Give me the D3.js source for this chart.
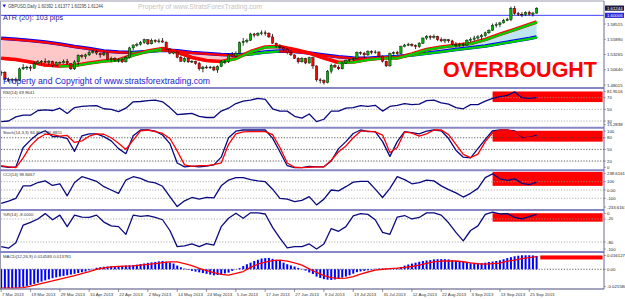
<!DOCTYPE html>
<html>
<head>
<meta charset="utf-8">
<script src="https://d3js.org/d3.v7.min.js"></script>
<style>
  body { margin: 0; background: #ffffff; }
  svg { display: block; font-family: 'Liberation Sans', Arial, sans-serif; }
  .osc { fill: none; stroke: #0a0a80; stroke-width: 1.3; stroke-linejoin: round; }
  .sig { fill: none; stroke: #ff0000; stroke-width: 1.3; stroke-linejoin: round; }
  .lvl { stroke: #9a9a9a; stroke-width: 0.8; stroke-dasharray: 1.2,1.6; }
  .lvl.dark { stroke: #333333; }
  .rlab { font-size: 4.3px; fill: #222222; }
  .ilab { font-size: 4.3px; fill: #333333; }
  .dlab { font-size: 4.3px; fill: #333333; }
</style>
</head>
<body>
<script>
// ---- price bars (daily GBPUSD, 7 Mar .. 27 Sep 2013) ----
var opens = [1.5010,1.5020,1.4900,1.4880,1.4900,1.4880,1.5080,1.5100,1.5110,1.5090,
  1.5170,1.5200,1.5210,1.5190,1.5210,1.5140,1.5190,1.5180,1.5210,1.5170,
  1.5080,1.5200,1.5310,1.5290,1.5320,1.5360,1.5380,1.5350,1.5320,1.5350,
  1.5240,1.5260,1.5230,1.5240,1.5200,1.5270,1.5440,1.5490,1.5500,1.5530,
  1.5580,1.5510,1.5570,1.5550,1.5560,1.5540,1.5420,1.5350,1.5370,1.5280,
  1.5210,1.5260,1.5200,1.5210,1.5170,1.5080,1.5110,1.5100,1.5110,1.5060,
  1.5120,1.5200,1.5200,1.5320,1.5300,1.5350,1.5530,1.5550,1.5570,1.5680,
  1.5660,1.5690,1.5700,1.5690,1.5630,1.5520,1.5470,1.5450,1.5420,1.5360,
  1.5320,1.5260,1.5200,1.5260,1.5180,1.5270,1.5130,1.4890,1.4880,1.4840,
  1.5040,1.5140,1.5110,1.5080,1.5180,1.5230,1.5240,1.5260,1.5360,1.5350,
  1.5320,1.5380,1.5360,1.5370,1.5300,1.5210,1.5130,1.5340,1.5360,1.5340,
  1.5460,1.5490,1.5500,1.5480,1.5460,1.5520,1.5610,1.5640,1.5620,1.5640,
  1.5580,1.5560,1.5580,1.5560,1.5500,1.5490,1.5500,1.5490,1.5570,1.5590,
  1.5610,1.5630,1.5650,1.5700,1.5740,1.5830,1.5840,1.5870,1.5910,1.5930,
  1.6120,1.6030,1.6020,1.6010,1.6050,1.6020,1.60392];
var highs = [1.5050,1.5040,1.4930,1.4920,1.4930,1.5100,1.5160,1.5130,1.5140,1.5200,
  1.5230,1.5230,1.5260,1.5230,1.5220,1.5210,1.5210,1.5240,1.5250,1.5180,
  1.5230,1.5330,1.5330,1.5340,1.5400,1.5410,1.5400,1.5360,1.5390,1.5360,
  1.5290,1.5280,1.5260,1.5260,1.5300,1.5460,1.5500,1.5530,1.5560,1.5600,
  1.5590,1.5600,1.5590,1.5600,1.5610,1.5550,1.5440,1.5390,1.5380,1.5310,
  1.5280,1.5270,1.5230,1.5220,1.5200,1.5130,1.5140,1.5130,1.5130,1.5140,
  1.5230,1.5230,1.5340,1.5370,1.5380,1.5550,1.5610,1.5600,1.5700,1.5700,
  1.5710,1.5740,1.5740,1.5710,1.5680,1.5530,1.5500,1.5460,1.5440,1.5380,
  1.5330,1.5280,1.5280,1.5270,1.5290,1.5290,1.5140,1.4920,1.4900,1.5060,
  1.5170,1.5170,1.5140,1.5200,1.5240,1.5260,1.5280,1.5380,1.5380,1.5370,
  1.5400,1.5400,1.5400,1.5380,1.5310,1.5220,1.5360,1.5380,1.5390,1.5480,
  1.5510,1.5530,1.5520,1.5500,1.5540,1.5620,1.5660,1.5660,1.5670,1.5650,
  1.5620,1.5600,1.5590,1.5580,1.5540,1.5530,1.5530,1.5590,1.5620,1.5650,
  1.5660,1.5680,1.5720,1.5760,1.5860,1.5880,1.5890,1.5940,1.5960,1.6150,
  1.6160,1.6060,1.6060,1.6070,1.6080,1.6060,1.61377];
var lows = [1.4960,1.4880,1.4850,1.4832,1.4850,1.4870,1.5060,1.5060,1.5040,1.5080,
  1.5150,1.5140,1.5180,1.5150,1.5110,1.5130,1.5170,1.5170,1.5150,1.5060,
  1.5060,1.5140,1.5260,1.5250,1.5300,1.5340,1.5320,1.5270,1.5300,1.5220,
  1.5190,1.5200,1.5190,1.5180,1.5190,1.5260,1.5400,1.5460,1.5480,1.5510,
  1.5490,1.5500,1.5530,1.5520,1.5530,1.5400,1.5330,1.5330,1.5260,1.5200,
  1.5190,1.5180,1.5180,1.5150,1.5050,1.5020,1.5080,1.5080,1.5040,1.5010,
  1.5110,1.5160,1.5180,1.5280,1.5280,1.5340,1.5480,1.5520,1.5560,1.5620,
  1.5640,1.5660,1.5650,1.5610,1.5510,1.5440,1.5420,1.5380,1.5330,1.5300,
  1.5250,1.5170,1.5190,1.5160,1.5170,1.5080,1.4860,1.4830,1.4810,1.4830,
  1.5000,1.5100,1.5060,1.5070,1.5160,1.5200,1.5210,1.5250,1.5320,1.5270,
  1.5300,1.5330,1.5340,1.5280,1.5190,1.5110,1.5120,1.5320,1.5320,1.5330,
  1.5450,1.5470,1.5460,1.5420,1.5440,1.5510,1.5580,1.5580,1.5600,1.5560,
  1.5540,1.5520,1.5530,1.5480,1.5440,1.5460,1.5460,1.5480,1.5540,1.5560,
  1.5580,1.5570,1.5630,1.5680,1.5730,1.5790,1.5800,1.5860,1.5900,1.5900,
  1.6010,1.5990,1.5970,1.5990,1.6000,1.5980,1.60295];
var closes = [1.5020,1.4900,1.4880,1.4900,1.4880,1.5080,1.5100,1.5110,1.5090,1.5170,
  1.5200,1.5210,1.5190,1.5210,1.5140,1.5190,1.5180,1.5210,1.5170,1.5080,
  1.5200,1.5310,1.5290,1.5320,1.5360,1.5380,1.5350,1.5320,1.5350,1.5240,
  1.5260,1.5230,1.5240,1.5200,1.5270,1.5440,1.5490,1.5500,1.5530,1.5580,
  1.5510,1.5570,1.5550,1.5560,1.5540,1.5420,1.5350,1.5370,1.5280,1.5210,
  1.5260,1.5200,1.5210,1.5170,1.5080,1.5110,1.5100,1.5110,1.5060,1.5120,
  1.5200,1.5200,1.5320,1.5300,1.5350,1.5530,1.5550,1.5570,1.5680,1.5660,
  1.5690,1.5700,1.5690,1.5630,1.5520,1.5470,1.5450,1.5420,1.5360,1.5320,
  1.5260,1.5200,1.5260,1.5180,1.5270,1.5130,1.4890,1.4880,1.4840,1.5040,
  1.5140,1.5110,1.5080,1.5180,1.5230,1.5240,1.5260,1.5360,1.5350,1.5320,
  1.5380,1.5360,1.5370,1.5300,1.5210,1.5130,1.5340,1.5360,1.5340,1.5460,
  1.5490,1.5500,1.5480,1.5460,1.5520,1.5610,1.5640,1.5620,1.5640,1.5580,
  1.5560,1.5580,1.5560,1.5500,1.5490,1.5500,1.5490,1.5570,1.5590,1.5610,
  1.5630,1.5650,1.5700,1.5740,1.5830,1.5840,1.5870,1.5910,1.5930,1.6120,
  1.6030,1.6020,1.6010,1.6050,1.6020,1.6040,1.61244];

// ---- moving averages, read every 4 bars ----
var maIdx = [0,4,8,12,16,20,24,28,32,36,40,44,48,52,56,60,64,68,72,76,80,84,88,92,96,100,104,108,112,116,120,124,128,132,136,140,144,146];
var maSlow = [1.5605,1.5588,1.5568,1.5542,1.5507,1.5464,1.5430,1.5387,1.5370,1.5361,1.5378,1.5401,1.5390,1.5361,1.5344,1.5327,1.5318,1.5335,1.5370,1.5387,
  1.5378,1.5352,1.5318,1.5289,1.5266,1.5261,1.5278,1.5292,1.5318,1.5347,1.5378,1.5413,1.5442,1.5473,1.5516,1.5559,1.5602,1.5628];
var maFast = [1.5261,1.5240,1.5198,1.5146,1.5129,1.5137,1.5180,1.5215,1.5232,1.5318,1.5387,1.5430,1.5370,1.5275,1.5223,1.5206,1.5258,1.5378,1.5456,1.5464,
  1.5413,1.5352,1.5266,1.5189,1.5198,1.5240,1.5266,1.5266,1.5335,1.5413,1.5456,1.5485,1.5516,1.5585,1.5674,1.5757,1.5843,1.5886];
var levelPrice = 1.60006;

// ---- oscillators, read every 2 bars ----
var oscIdx = d3.range(0, 147, 2);
var rsi = [29,30,37,40,40,48,49,48,52,43, 53,55,56,56.5,51,50,46,52,63,63.5, 65,66,63,53,41,42,43,38,36,36,
  47,52,60,64,66,69,67,51,47,47, 38,35,42,29,33,47,47,52,53,56.5, 55,57,47,55,57,60,58,59,65,66,
  61,59,53,51,58,58,64,69,72,74, 80,70,69,70];
var stochMain = [6,4,5,55,74,90,98,83,83,78, 45,85,90,90,83,72,52,39,85,100, 100,97,87,65,15,5,7,5,7,10,
  30,80,97,100,100,100,100,79,44,8, 3,3,6,5,5,20,52,70,91,100, 96,96,70,32,70,96,93,90,97,100,
  98,78,48,30,28,52,76,98,100,100, 98,82,81,87];
var stochSignal = [8,5,3,28,59,78,89,88,84,86, 68,72,84,90,89,80,66,50,74,98, 100,96,91,78,46,10,6,8,8,11,
  15,63,90,95,96,96,96,88,55,15, 4,3,4,5,5,22,44,59,80,97, 97,95,87,42,55,95,92,84,90,100,
  100,88,63,37,29,38,70,93,100,100, 96,85,80,83];
var cci = [-160,-135,-100,50,50,90,110,55,75,-70, 90,160,135,105,40,0,-40,120,160,140, 100,85,45,-80,-200,-130,-90,-110,-90,-95,
  50,120,150,150,125,110,100,10,-100,-110, -140,-125,-80,-180,-110,0,-10,40,95,105, 105,10,-90,20,160,125,75,90,120,110,
  50,5,-35,-85,-40,20,150,195,135,115, 135,80,65,95];
var wpr = [-92,-96,-82,-36,-29,-20,-6,-22,-10,-40, -10,-15,-16,-10,-28,-38,-40,-60,-10,-13, -11,-16,-22,-50,-92,-90,-85,-92,-84,-88,
  -40,-18,-5,-18,-4,-4,-7,-42,-70,-95, -92,-92,-85,-98,-85,-45,-52,-40,-12,-6, -8,-22,-55,-60,-15,-11,-20,-16,-4,-4,
  -10,-30,-55,-77,-50,-38,-8,-2,-7,-6, -16,-20,-14,-8];
var macdSignal = [-.0207,-.0207,-.0206,-.0200,-.0184,-.0166,-.0145,-.0128,-.0108,-.0090, -.0070,-.0048,-.0025,.0000,.0015,.0025,.0031,.0034,.0036,.0045,
  .0053,.0062,.0072,.0080,.0080,.0062,.0040,.0010,-.0015,-.0037, -.0055,-.0064,-.0045,-.0025,.0020,.0055,.0078,.0095,.0100,.0088,
  .0070,.0045,.0005,-.0035,-.0070,-.0092,-.0100,-.0098,-.0080,-.0052, -.0030,-.0010,.0000,.0007,.0012,.0020,.0030,.0045,.0065,.0080,
  .0090,.0092,.0090,.0082,.0070,.0060,.0057,.0062,.0068,.0088, .0100,.0116,.0128,.0138];
// MACD histogram, one value per bar
var macdHist = [-.0207,-.0208,-.0207,-.0205,-.0203,-.0200,-.0192,-.0182,-.0172,-.0160,
  -.0148,-.0135,-.0122,-.0110,-.0098,-.0089,-.0080,-.0073,-.0066,-.0058,
  -.0050,-.0041,-.0033,-.0025,-.0012,.0004,.0016,.0022,.0027,.0030,
  .0032,.0034,.0036,.0038,.0040,.0043,.0046,.0050,.0057,.0063,
  .0070,.0075,.0080,.0086,.0090,.0084,.0074,.0062,.0040,.0022,
  .0007,-.0006,-.0018,-.0026,-.0034,-.0041,-.0050,-.0058,-.0066,-.0062,
  -.0055,-.0046,-.0037,-.0018,-.0002,.0012,.0035,.0055,.0072,.0090,
  .0104,.0117,.0122,.0124,.0114,.0104,.0090,.0072,.0055,.0042,
  .0030,.0015,.0004,-.0015,-.0035,-.0052,-.0080,-.0095,-.0108,-.0114,
  -.0117,-.0112,-.0102,-.0092,-.0080,-.0066,-.0048,-.0032,-.0024,-.0018,
  -.0012,-.0006,.0005,.0007,.0007,.0007,.0006,.0007,.0012,.0025,
  .0040,.0052,.0062,.0072,.0082,.0090,.0096,.0100,.0108,.0110,
  .0111,.0110,.0108,.0100,.0090,.0085,.0079,.0070,.0066,.0066,
  .0065,.0066,.0072,.0080,.0085,.0090,.0098,.0110,.0122,.0132,
  .0142,.0148,.0153,.0153,.0153,.0151,.0146];

// overbought zones: [first bar, last bar, low, high]
var obRsi = [134, 164, 62.5, 80.7];
var obStoch = [134, 164, 70, 98];
var obCci = [134, 164, 50, 219];
var obWpr = [134, 164, -27, -5];
var obMacd = [147, 164, 0.0107, 0.0151];

// axis labels
var dateIdx = [0,8,16,24,32,40,48,56,64,72,80,88,96,104,112,120,128,136,144];
var dateLabels = ['7 Mar 2013','19 Mar 2013','29 Mar 2013','10 Apr 2013','22 Apr 2013','2 May 2013','14 May 2013',
  '24 May 2013','5 Jun 2013','17 Jun 2013','27 Jun 2013','9 Jul 2013','19 Jul 2013','31 Jul 2013','12 Aug 2013',
  '22 Aug 2013','3 Sep 2013','13 Sep 2013','25 Sep 2013'];
var priceTicks = ['1.58515','1.55890','1.53265','1.50640','1.48015'];
var rsiTicks = ['81.9516','70','50','30','15.2838'];
var stochTicks = ['100','80','50','20','0'];
var cciTicks = ['238.6161','100','0.00','-100','-233.6167'];
var wprTicks = ['0','-20','-80','-100'];
var macdTicks = ['0.016127','0.00','-0.021580'];

// ---- layout ----
var svg = d3.select('body').append('svg').attr('width', 625).attr('height', 299);
var plotR = 604;

var x = d3.scaleLinear().domain([0, 146]).range([1.2, 536.6]);
var yP = d3.scaleLinear().domain([1.48015, 1.58515]).range([85, 24]);
var yR = d3.scaleLinear().domain([30, 70]).range([121, 97.7]);
var yS = d3.scaleLinear().domain([0, 100]).range([168.8, 130]);
var yC = d3.scaleLinear().domain([-100, 100]).range([198.3, 181.7]);
var yW = d3.scaleLinear().domain([-100, 0]).range([249.7, 211.3]);
var yM = d3.scaleLinear().domain([-0.02158, 0.016127]).range([289, 254.5]);

var defs = svg.append('defs');
function panel(id, top, bottom) {
  defs.append('clipPath').attr('id', 'clip-' + id)
    .append('rect').attr('x', 1).attr('y', top).attr('width', plotR - 1).attr('height', bottom - top);
  return svg.append('g').attr('clip-path', 'url(#clip-' + id + ')');
}

function levels(g, scale, vals, cls) {
  vals.forEach(function(v) {
    g.append('line').attr('class', 'lvl ' + (cls || ''))
      .attr('x1', 1).attr('x2', plotR).attr('y1', scale(v)).attr('y2', scale(v));
  });
}

function obBox(g, scale, b) {
  g.append('rect').attr('fill', '#ff0000')
    .attr('x', x(b[0])).attr('width', x(b[1]) - x(b[0]))
    .attr('y', scale(b[3])).attr('height', scale(b[2]) - scale(b[3]));
}

function oscLine(g, scale, vals, cls) {
  g.append('path').attr('class', cls)
    .attr('d', d3.line().x(function(d, i) { return x(oscIdx[i]); }).y(function(d) { return scale(d); })(vals));
}

function rightLabels(ticks, scale, top, bottom) {
  ticks.forEach(function(t) {
    var yy = Math.max(top + 2.5, Math.min(bottom - 2, scale(+t)));
    svg.append('line').attr('x1', plotR).attr('x2', plotR + 2).attr('y1', yy).attr('y2', yy)
      .attr('stroke', '#555').attr('stroke-width', 0.5);
    svg.append('text').attr('class', 'rlab').attr('x', plotR + 3).attr('y', yy).attr('dy', '0.35em').text(t);
  });
}

// ---- price panel ----
var gP = panel('price', 2, 87);
var maX = function(d, i) { return x(maIdx[i]); };
gP.append('path').attr('fill', '#ffc8c8')
  .attr('d', d3.area().x(maX)
    .y0(function(d, i) { return yP(maFast[i]); })
    .y1(function(d, i) { return yP(Math.max(maFast[i], maSlow[i])); })(maIdx));
gP.append('path').attr('fill', '#bfe6ee')
  .attr('d', d3.area().x(maX)
    .y0(function(d, i) { return yP(maSlow[i]); })
    .y1(function(d, i) { return yP(Math.max(maFast[i], maSlow[i])); })(maIdx));

gP.append('line').attr('x1', 1).attr('x2', plotR).attr('y1', yP(levelPrice)).attr('y2', yP(levelPrice))
  .attr('stroke', '#4040ff').attr('stroke-width', 1);

function maLine(vals, outer) {
  gP.append('path').attr('fill', 'none').attr('stroke', outer).attr('stroke-width', 3.6)
    .attr('stroke-linejoin', 'round')
    .attr('d', d3.line().x(maX).y(function(d) { return yP(d); })(vals));
  for (var i = 0; i < vals.length - 1; i++) {
    gP.append('line')
      .attr('x1', x(maIdx[i])).attr('x2', x(maIdx[i + 1]))
      .attr('y1', yP(vals[i]) + 0.4).attr('y2', yP(vals[i + 1]) + 0.4)
      .attr('stroke', vals[i + 1] >= vals[i] ? '#00d000' : '#ff0000')
      .attr('stroke-width', 2.2).attr('stroke-linecap', 'round');
  }
}
maLine(maSlow, '#0000ff');
maLine(maFast, '#ff0000');

var bars = d3.range(closes.length);
gP.selectAll('.wick').data(bars).join('line').attr('class', 'wick')
  .attr('x1', function(i) { return x(i); }).attr('x2', function(i) { return x(i); })
  .attr('y1', function(i) { return yP(highs[i]); }).attr('y2', function(i) { return yP(lows[i]); })
  .attr('stroke', '#000').attr('stroke-width', 0.8);
gP.selectAll('.body').data(bars).join('rect').attr('class', 'body')
  .attr('x', function(i) { return x(i) - 1.2; }).attr('width', 2.4)
  .attr('y', function(i) { return yP(Math.max(opens[i], closes[i])); })
  .attr('height', function(i) { return Math.max(0.8, Math.abs(yP(opens[i]) - yP(closes[i]))); })
  .attr('fill', function(i) { return closes[i] >= opens[i] ? '#00b000' : '#ff0000'; })
  .attr('stroke', '#000').attr('stroke-width', 0.4);

// texts in price panel
svg.append('path').attr('d', 'M2.5,4.5 L6,4.5 L4.25,7.5 Z').attr('fill', '#2020c0');
svg.append('text').attr('x', 8).attr('y', 7.8).attr('font-size', 5.5).attr('fill', '#444')
  .attr('textLength', 95).attr('lengthAdjust', 'spacingAndGlyphs')
  .text('GBPUSD,Daily  1.60392 1.61377 1.60295 1.61244');
svg.append('text').attr('x', 138).attr('y', 9).attr('font-size', 6.8).attr('fill', '#c4c4c4')
  .text('Property of www.StratsForexTrading.com');
svg.append('text').attr('x', 3).attr('y', 19.5).attr('font-size', 8).attr('fill', '#1e1e8c')
  .attr('textLength', 60).attr('lengthAdjust', 'spacingAndGlyphs')
  .text('ATR (20): 103 pips');
svg.append('text').attr('x', 3).attr('y', 83.5).attr('font-size', 9.5).attr('fill', '#1a1ad0')
  .attr('textLength', 207).attr('lengthAdjust', 'spacingAndGlyphs')
  .text('Property and Copyright of www.stratsforextrading.com');
svg.append('text').attr('x', 443).attr('y', 77).attr('font-size', 22).attr('font-weight', 'bold')
  .attr('fill', '#ff0000').attr('textLength', 154).attr('lengthAdjust', 'spacingAndGlyphs')
  .text('OVERBOUGHT');

// ---- RSI ----
var gR = panel('rsi', 89, 126.7);
obBox(gR, yR, obRsi);
levels(gR, yR, [70, 50, 30]);
oscLine(gR, yR, rsi, 'osc');
svg.append('text').attr('class', 'ilab').attr('x', 3).attr('y', 93.5).text('RSI(14) 69.9641');

// ---- Stochastic ----
var gS = panel('stoch', 128.7, 169.3);
obBox(gS, yS, obStoch);
levels(gS, yS, [80, 50, 20], 'dark');
oscLine(gS, yS, stochMain, 'osc');
oscLine(gS, yS, stochSignal, 'sig');
svg.append('text').attr('class', 'ilab').attr('x', 3).attr('y', 134).text('Stoch(14,3,3) 86.8072 86.8851');

// ---- CCI ----
var gC = panel('cci', 171.2, 209);
obBox(gC, yC, obCci);
levels(gC, yC, [100, 0, -100]);
oscLine(gC, yC, cci, 'osc');
svg.append('text').attr('class', 'ilab').attr('x', 3).attr('y', 176.3).text('CCI(14) 98.8467');

// ---- Williams %R ----
var gW = panel('wpr', 211, 251);
obBox(gW, yW, obWpr);
levels(gW, yW, [-20, -80]);
oscLine(gW, yW, wpr, 'osc');
svg.append('text').attr('class', 'ilab').attr('x', 3).attr('y', 215.5).text('%R(14) -8.0000');

// ---- MACD ----
var gM = panel('macd', 253, 288.5);
obBox(gM, yM, obMacd);
levels(gM, yM, [0], 'dark');
gM.selectAll('.hist').data(bars).join('rect').attr('class', 'hist')
  .attr('x', function(i) { return x(i) - 1; }).attr('width', 2)
  .attr('y', function(i) { return Math.min(yM(0), yM(macdHist[i])); })
  .attr('height', function(i) { return Math.abs(yM(macdHist[i]) - yM(0)); })
  .attr('fill', '#0000ff');
oscLine(gM, yM, macdSignal, 'sig');
svg.append('text').attr('class', 'ilab').attr('x', 3).attr('y', 257.5).text('MACD(12,26,9) 0.014583 0.013781');

// ---- frame, separators and axes ----
svg.append('line').attr('x1', 0).attr('x2', plotR).attr('y1', 1).attr('y2', 1).attr('stroke', '#9a9ab0').attr('stroke-width', 1);
svg.append('line').attr('x1', 0.5).attr('x2', 0.5).attr('y1', 1).attr('y2', 289).attr('stroke', '#9a9ab0').attr('stroke-width', 1);
[88, 127.7, 170.2, 210, 252].forEach(function(yy) {
  svg.append('line').attr('x1', 0).attr('x2', plotR).attr('y1', yy).attr('y2', yy)
    .attr('stroke', '#8787c6').attr('stroke-width', 2);
});
svg.append('line').attr('x1', 0).attr('x2', plotR).attr('y1', 289).attr('y2', 289).attr('stroke', '#4a4a7a').attr('stroke-width', 1);
svg.append('line').attr('x1', plotR).attr('x2', plotR).attr('y1', 1).attr('y2', 289).attr('stroke', '#6a6aa0').attr('stroke-width', 1);

rightLabels(priceTicks, yP, 2, 87);
rightLabels(rsiTicks, yR, 89, 126.7);
rightLabels(stochTicks, yS, 128.7, 169.3);
rightLabels(cciTicks, yC, 171.2, 209);
rightLabels(wprTicks, yW, 211, 251);
rightLabels(macdTicks, yM, 253, 288.5);

// current price and level tags
function tag(v, bg, txt) {
  svg.append('rect').attr('x', plotR + 1).attr('y', yP(v) - 2.6).attr('width', 19).attr('height', 5.2).attr('fill', bg);
  svg.append('text').attr('class', 'rlab').attr('x', plotR + 3).attr('y', yP(v)).attr('dy', '0.35em')
    .style('fill', '#ffffff').text(txt);
}
tag(levelPrice, '#2a2ad8', '1.60006');
tag(closes[closes.length - 1], '#1a1a40', '1.61244');

// date axis
dateIdx.forEach(function(b, k) {
  svg.append('line').attr('x1', x(b)).attr('x2', x(b)).attr('y1', 289).attr('y2', 292)
    .attr('stroke', '#555').attr('stroke-width', 0.6);
  svg.append('text').attr('class', 'dlab').attr('x', x(b) + 0.8).attr('y', 296.2).text(dateLabels[k]);
});
</script>
</body>
</html>
